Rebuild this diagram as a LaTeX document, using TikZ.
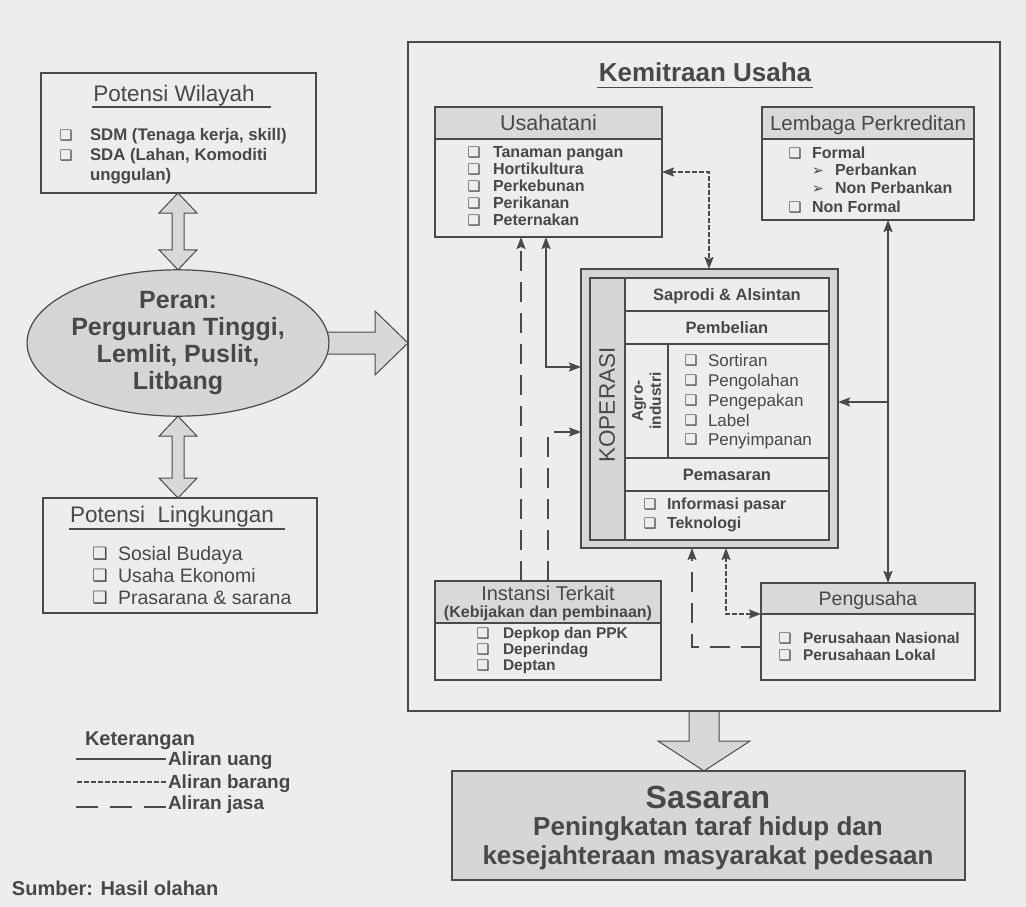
\documentclass[tikz,border=0pt]{standalone}
\usepackage{fontspec}
\setmainfont{Liberation Sans}
\newfontfamily\symf{DejaVu Sans}
\usetikzlibrary{calc,fit,arrows.meta,shapes.geometric}
\definecolor{bgc}{HTML}{EDEDED}
\definecolor{ink}{HTML}{484848}
\definecolor{lin}{HTML}{4A4A4A}
\definecolor{hdr}{HTML}{D9D9D9}
\definecolor{fil}{HTML}{D6D6D6}
\definecolor{arr}{HTML}{D8D8D8}
\pgfdeclarelayer{back}
\pgfdeclarelayer{mid}
\pgfsetlayers{back,mid,main}
\newcommand{\fsz}[2]{\fontsize{#1}{#2}\selectfont}
\newcommand{\vdarrow}[2]{\filldraw[blk] (#1) -- ++(19,20) -- ++(-13,0) -- ($(#2)+(6,-20)$) -- ++(13,0) -- (#2) -- ++(-19,-20) -- ++(13,0) -- ($(#1)+(-6,20)$) -- ++(-13,0) -- cycle;}
\begin{document}
\begin{tikzpicture}[x=1pt,y=-1pt,
 every node/.style={text=ink,inner sep=0pt,outer sep=0pt},
 >={Stealth[length=12pt,width=9pt,inset=2pt]},
 box/.style={draw=lin,line width=1.3pt,fill=bgc,inner sep=0pt},
 hbox/.style={draw=lin,line width=1.3pt,fill=hdr,inner sep=0pt},
 cell/.style={draw=lin,line width=1.2pt,inner sep=0pt},
 ttl/.style={font=\fsz{22.5}{27},text height=16.2pt,text depth=0pt},
 hd/.style={font=\fsz{20.5}{24},text height=14.8pt,text depth=0pt},
 ib/.style={font=\fsz{16}{19}\bfseries,text height=11.5pt,text depth=0pt,anchor=west},
 ir/.style={font=\fsz{17}{20},text height=12.2pt,text depth=0pt,anchor=west},
 ilg/.style={font=\fsz{19.5}{23},text height=14pt,text depth=0pt,anchor=west},
 lg/.style={font=\fsz{19}{23}\bfseries,text height=13.7pt,text depth=0pt,anchor=west},
 kb/.style={font=\fsz{16.5}{20}\bfseries,text height=11.9pt,text depth=0pt},
 cb/.style={font=\symf\fsz{14.5}{14.5},text height=10.2pt,text depth=0pt},
 cbl/.style={font=\symf\fsz{17}{17},text height=12pt,text depth=0pt},
 uang/.style={draw=lin,line width=2pt},
 barang/.style={draw=lin,line width=2pt,dash pattern=on 5pt off 2pt},
 jasa/.style={draw=lin,line width=1.3pt,dash pattern=on 20pt off 11pt},
 blk/.style={fill=arr,draw=lin,line width=1pt,line join=miter}]
\begin{pgfonlayer}{back}
\fill[bgc] (0,0) rectangle (1026,907);
\end{pgfonlayer}
\useasboundingbox (0,0) rectangle (1026,907);

% ---------- left column ----------
\node[box,fit={(41,73) (316,193)}] (pw) {};
\node[ttl] (pwt) at (174,93) {Potensi Wilayah};
\draw[lin,line width=1.3pt] ($(pwt.south west)+(-1,6)$) -- ($(pwt.south east)+(16,6)$);
\node[cb] (pw1c) at (66,135) {❑};
\node[ib,font=\fsz{16.8}{20}\bfseries] (pw1) at (90,135) {SDM (Tenaga kerja, skill)};
\node[cb] (pw2c) at (66,155) {❑};
\node[ib,font=\fsz{16.8}{20}\bfseries] (pw2) at (90,155) {SDA (Lahan, Komoditi};
\node[ib,font=\fsz{16.8}{20}\bfseries] (pw3) at (90,175) {unggulan)};

\node[ellipse,draw=lin,line width=1.2pt,fill=fil,minimum width=273pt,minimum height=113pt,
      align=center,font=\fsz{25}{27}\bfseries] (pr) at (178,343)
      {Peran:\\Perguruan Tinggi,\\Lemlit, Puslit,\\Litbang};

\node[box,fit={(43,498) (317,613)}] (pl) {};
\node[ttl] (plt) at (172,514) {Potensi\ \ Lingkungan};
\draw[lin,line width=1.3pt] ($(plt.south west)+(-1,7)$) -- ($(plt.south east)+(11,7)$);
\node[cbl] (pl1c) at (100,553) {❑};
\node[ilg] (pl1) at (118,553) {Sosial Budaya};
\node[cbl] (pl2c) at (100,575) {❑};
\node[ilg] (pl2) at (118,575) {Usaha Ekonomi};
\node[cbl] (pl3c) at (100,597) {❑};
\node[ilg] (pl3) at (118,597) {Prasarana \& sarana};

% legend
\node[font=\fsz{20}{24}\bfseries,text height=14.4pt,text depth=0pt,anchor=west] (ket) at (85,738) {Keterangan};
\node[lg] (lg1) at (168,759) {Aliran uang};
\draw[uang,line width=2.2pt] ($(lg1.west)+(-2,0)$) -- ++(-90,0);
\node[lg] (lg2) at (168,782) {Aliran barang};
\draw[barang,line width=2.4pt] ($(lg2.west)+(-2,0)$) -- ++(-90,0);
\node[lg] (lg3) at (168,803) {Aliran jasa};
\draw[jasa,dash pattern=on 22pt off 12pt] ($(lg3.west)+(-2,4)$) -- ++(-90,0);
\node[font=\fsz{20}{24}\bfseries,text height=14.4pt,text depth=0pt,anchor=west] (src) at (12,888) {Sumber: Hasil olahan};

% ---------- Kemitraan Usaha ----------
\node[box,line width=2.5pt,fit={(408,42) (1000,711)}] (kem) {};
\node[font=\fsz{26}{30}\bfseries,text height=18.7pt,text depth=0pt] (kemt) at (705,72) {Kemitraan Usaha};
\draw[lin,line width=1.5pt] ($(kemt.south west)+(-2,6)$) -- ($(kemt.south east)+(2,6)$);

% Usahatani
\node[box,fit={(435,107) (662,237)}] (ut) {};
\node[hbox,fit={(435,107) (662,139)}] (uth) {};
\node[hd,font=\fsz{21.5}{25}] (utt) at (uth.center) {Usahatani};
\node[cb] (ut1c) at (474,152) {❑}; \node[ib] (ut1) at (493,152) {Tanaman pangan};
\node[cb] (ut2c) at (474,169) {❑}; \node[ib] (ut2) at (493,169) {Hortikultura};
\node[cb] (ut3c) at (474,186) {❑}; \node[ib] (ut3) at (493,186) {Perkebunan};
\node[cb] (ut4c) at (474,203) {❑}; \node[ib] (ut4) at (493,203) {Perikanan};
\node[cb] (ut5c) at (474,220) {❑}; \node[ib] (ut5) at (493,220) {Peternakan};

% Lembaga Perkreditan
\node[box,fit={(762,107) (974,220)}] (lp) {};
\node[hbox,fit={(762,107) (974,139)}] (lph) {};
\node[hd] (lpt) at (lph.center) {Lembaga Perkreditan};
\node[cb] (lp1c) at (795,153) {❑}; \node[ib] (lp1) at (812,153) {Formal};
\node[cb] (lp2c) at (818,170) {➢}; \node[ib] (lp2) at (835,170) {Perbankan};
\node[cb] (lp3c) at (818,188) {➢}; \node[ib] (lp3) at (835,188) {Non Perbankan};
\node[cb] (lp4c) at (795,207) {❑}; \node[ib] (lp4) at (812,207) {Non Formal};

% Koperasi
\node[draw=lin,line width=2.6pt,fill=fil,fit={(581,269) (838,548)}] (kopo) {};
\node[draw=lin,line width=1.4pt,fill=bgc,fit={(590,278) (829,540)}] (kopi) {};
\node[draw=lin,line width=1.2pt,fill=fil,fit={(590,278) (625,540)}] (kband) {};
\node[font=\fsz{22.5}{26},rotate=90] (kopt) at (607,405) {KOPERASI};
\node[cell,fit={(625,278) (829,311)}] (c1) {};
\node[cell,fit={(625,311) (829,344)}] (c2) {};
\node[cell,fit={(625,344) (668,458)}] (c3a) {};
\node[cell,fit={(668,344) (829,458)}] (c3b) {};
\node[cell,fit={(625,458) (829,491)}] (c4) {};
\node[cell,fit={(625,491) (829,540)}] (c5) {};
\node[kb] (c1t) at (c1.center) {Saprodi \& Alsintan};
\node[kb] (c2t) at (c2.center) {Pembelian};
\node[kb] (c4t) at (c4.center) {Pemasaran};
\node[font=\fsz{15.5}{18}\bfseries,rotate=90,align=center] (agt) at (c3a.center) {Agro-\\industri};
\node[cb] (ag1c) at (691,360) {❑}; \node[ir] (ag1) at (708,360) {Sortiran};
\node[cb] (ag2c) at (691,380) {❑}; \node[ir] (ag2) at (708,380) {Pengolahan};
\node[cb] (ag3c) at (691,400) {❑}; \node[ir] (ag3) at (708,400) {Pengepakan};
\node[cb] (ag4c) at (691,420) {❑}; \node[ir] (ag4) at (708,420) {Label};
\node[cb] (ag5c) at (691,439) {❑}; \node[ir] (ag5) at (708,439) {Penyimpanan};
\node[cb] (pm1c) at (650,504) {❑}; \node[ib] (pm1) at (667,504) {Informasi pasar};
\node[cb] (pm2c) at (650,523) {❑}; \node[ib] (pm2) at (667,523) {Teknologi};

% Instansi Terkait
\node[box,fit={(435,581) (661,680)}] (it) {};
\node[hbox,fit={(435,581) (661,623)}] (ith) {};
\node[hd,font=\fsz{20}{24}] (itt) at (548,593) {Instansi Terkait};
\node[font=\fsz{16}{19}\bfseries,text height=11.5pt,text depth=0pt] (its) at (548,612) {(Kebijakan dan pembinaan)};
\node[cb] (it1c) at (483,633) {❑}; \node[ib,font=\fsz{15.5}{18}\bfseries] (it1) at (503,633) {Depkop dan PPK};
\node[cb] (it2c) at (483,649) {❑}; \node[ib,font=\fsz{15.5}{18}\bfseries] (it2) at (503,649) {Deperindag};
\node[cb] (it3c) at (483,665) {❑}; \node[ib,font=\fsz{15.5}{18}\bfseries] (it3) at (503,665) {Deptan};

% Pengusaha
\node[box,fit={(761,583) (975,680)}] (pg) {};
\node[hbox,fit={(761,583) (975,614)}] (pgh) {};
\node[hd,font=\fsz{19.5}{23}] (pgt) at (pgh.center) {Pengusaha};
\node[cb] (pg1c) at (785,638) {❑}; \node[ib,font=\fsz{15.5}{18}\bfseries] (pg1) at (803,638) {Perusahaan Nasional};
\node[cb] (pg2c) at (785,655) {❑}; \node[ib,font=\fsz{15.5}{18}\bfseries] (pg2) at (803,655) {Perusahaan Lokal};

% Sasaran
\node[draw=lin,line width=1.3pt,fill=fil,fit={(452,771) (965,880)}] (ss) {};
\node[font=\fsz{32}{36}\bfseries,text height=23pt,text depth=0pt] (sst) at (708,797) {Sasaran};
\node[font=\fsz{26}{30}\bfseries,text height=18.7pt,text depth=0pt] (ss1) at (708,826) {Peningkatan taraf hidup dan};
\node[font=\fsz{26}{30}\bfseries,text height=18.7pt,text depth=0pt] (ss2) at (708,855) {kesejahteraan masyarakat pedesaan};

% ---------- block arrows ----------
\begin{pgfonlayer}{mid}
\coordinate (a1t) at (pr.north |- pw.south);
\coordinate (a1b) at (pr.north);
\vdarrow{a1t}{a1b}
\coordinate (a2t) at (pr.south);
\coordinate (a2b) at (pr.south |- pl.north);
\vdarrow{a2t}{a2b}
\coordinate (a3s) at (pr.east);
\coordinate (a3e) at (pr.east -| kem.west);
\filldraw[blk] ($(a3s)+(-6,-11)$) -- ($(a3e)+(-33,-11)$) -- ++(0,-21) -- (a3e) -- ++(-33,32) -- ++(0,-21) -- ($(a3s)+(-6,11)$) -- cycle;
\coordinate (a4t) at (kem.south);
\coordinate (a4b) at (kem.south |- ss.north);
\filldraw[blk] ($(a4t)+(-15,0)$) -- ($(a4t)+(15,0)$) -- ($(a4b)+(15,-30)$) -- ++(31,0) -- (a4b) -- ++(-46,-30) -- ++(31,0) -- cycle;
\end{pgfonlayer}

% ---------- flow connectors ----------
\coordinate (xA) at (546,0); \coordinate (yA) at (0,367);
\coordinate (xB) at (709,0); \coordinate (yB) at (0,172);
\coordinate (xC) at (521,0);
\coordinate (xD) at (548,0); \coordinate (yD) at (0,432);
\coordinate (xE) at (888,0); \coordinate (yE) at (0,402);
\coordinate (xF) at (726,0); \coordinate (yF) at (0,614);
\coordinate (xG) at (692,0); \coordinate (yG) at (0,647);
\draw[uang,<->] (ut.south -| xA) |- (kopo.west |- yA);
\draw[barang,<->] (ut.east |- yB) -| (kopo.north -| xB);
\draw[jasa,->] (it.north -| xC) -- (ut.south -| xC);
\draw[jasa,->] (it.north -| xD) |- (kopo.west |- yD);
\draw[uang,<->] (lp.south -| xE) -- (pg.north -| xE);
\draw[uang,->] (xE |- yE) -- (kopo.east |- yE);
\draw[barang,<->] (kopo.south -| xF) |- (pg.west |- yF);
\draw[jasa,->] (pg.west |- yG) -| (kopo.south -| xG);
\end{tikzpicture}
\end{document}
